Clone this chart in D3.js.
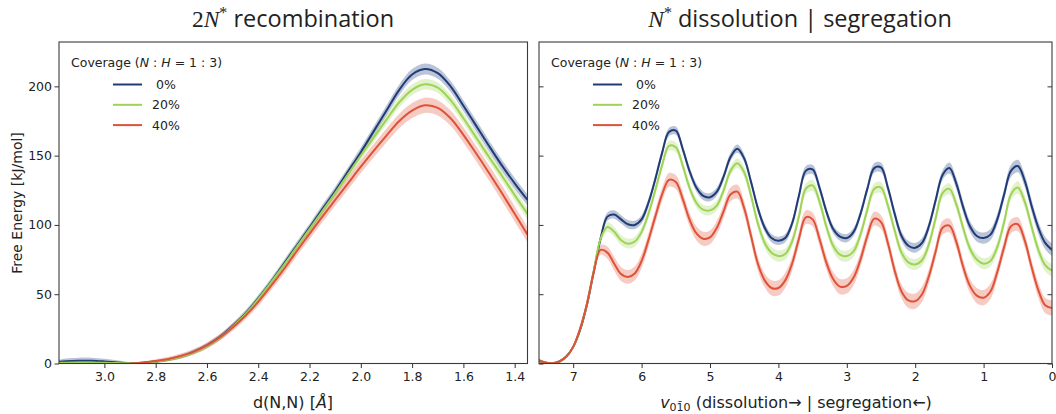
<!DOCTYPE html>
<html>
<head>
<meta charset="utf-8">
<script src="https://cdn.jsdelivr.net/npm/d3@7"></script>
<style>
html,body{margin:0;padding:0;background:#fff;}
svg{display:block;}
text{fill:#222;}
</style>
</head>
<body>
<svg id="chart" width="1056" height="414"></svg>
<script>
// ---------------- DATA ----------------
const seriesNames = [" 0%", "20%", "40%"];
const seriesColors = ["#1f3b78", "#9fd356", "#e05238"];

// Left panel: d(N,N) in Å
const leftX = [3.177,3.15,3.10,3.05,3.00,2.95,2.90,2.85,2.80,2.75,2.70,2.65,2.60,2.55,2.50,2.45,2.40,2.35,2.30,2.25,2.20,2.15,2.10,2.05,2.00,1.95,1.90,1.85,1.80,1.75,1.70,1.65,1.60,1.55,1.50,1.45,1.40,1.35];
const leftBlue  = [1.2,1.6,2.0,2.0,1.5,0.8,0.2,0.5,1.5,2.8,5,8.5,13,19,27,36,47,59,72,85,98,111.5,124.5,138.5,152.5,167.5,182.5,197.5,208.5,212.5,209.5,200,186,171.5,157,143,130,118];
const leftGreen = [0.5,0.6,0.7,0.7,0.5,0.3,0.1,0.4,1.3,2.7,4.8,8,12.5,18.5,26.5,35.5,46.5,58.5,71,84,97,110,123,136.5,150,163,176,188.5,197.5,201.5,199,190,177,163,149,135.5,121.5,108];
const leftRed   = [null,null,null,null,null,null,0,0.6,1.8,3.3,5.6,8.6,13,18.8,26,34.5,44.5,56,68,81,93.5,106,118,130,142,153.5,164.5,175,182.5,186.3,184.5,177,165,151.5,137.5,123,108,93];
const leftBlueErr  = [1.5,2,2.2,2.2,2,1.5,0.8,0.8,1,1.2,1.4,1.6,1.8,2,2.2,2.4,2.5,2.6,2.7,2.8,2.9,3,3.1,3.2,3.3,3.5,3.7,3.9,4,4,4,4,4,4,4,4,4,4];
const leftGreenErr = [0.8,0.8,0.8,0.8,0.8,0.6,0.5,0.6,0.8,1,1.2,1.4,1.6,1.8,2,2.2,2.3,2.4,2.5,2.6,2.7,2.8,2.9,3,3.1,3.3,3.5,3.7,3.8,3.8,3.8,3.8,3.8,3.8,3.8,3.8,3.8,3.8];
const leftRedErr   = [null,null,null,null,null,null,0.5,0.8,1.2,1.5,1.8,2,2.2,2.4,2.6,2.8,3,3.2,3.4,3.6,3.8,4,4.2,4.4,4.6,4.8,5,5.2,5.4,5.5,5.5,5.5,5.5,5.5,5.5,5.5,5.5,5.5];

// Right panel: v_010 coordinate
const rightX = [7.5,7.4,7.3,7.2,7.1,7.0,6.9,6.8,6.7,6.6,6.5,6.4,6.3,6.2,6.1,6.0,5.9,5.8,5.7,5.6,5.5,5.4,5.3,5.2,5.1,5.0,4.9,4.8,4.7,4.6,4.5,4.4,4.3,4.2,4.1,4.0,3.9,3.8,3.7,3.6,3.5,3.4,3.3,3.2,3.1,3.0,2.9,2.8,2.7,2.6,2.5,2.4,2.3,2.2,2.1,2.0,1.9,1.8,1.7,1.6,1.5,1.4,1.3,1.2,1.1,1.0,0.9,0.8,0.7,0.6,0.5,0.4,0.3,0.2,0.1,0.0];
const rightBlue  = [2,0.5,0,1.5,5,12,24,42,66,90, 106,107.5,104,100.5,100,104,116,133,152,167, 168,155,139,127,121,120,124,135,149,155, 148,131,112,98,90.5,88.5,90.5,101,121,139, 140,127,110,97,91.5,90.5,95,108,126,141, 141.5,127,108,92,85,83.5,87,99,118,136, 141,130,113,99,92,90.5,93,104,122,139, 142.5,132,114,98,87,82];
const rightGreen = [2,0.5,0,1.5,5,12,25,43,67,90, 98.5,95,89,86.5,88,95,108,125,143,157, 156,143,127,116,111,110.5,114,125,139,144.5, 138,121,101,87,80,77.5,79,88,106,126, 128.5,117,99,85,78.5,77.5,81,93,111,126, 127,114,96,80,73,71.5,74.5,86,105,123, 126,115,98,83,75,72,74,84,102,122, 127,117,99,82,71,67];
const rightRed   = [2,0.5,0,1.5,5,12,25,43,66,82, 80,72,64.5,62.5,65,74,89,106,122,132.5, 131,119,104,94,90,91,98,110,122,124, 112,92,72,60,54.5,54.5,60,72,90,105.5, 104,90,73,61,55.5,56,62,75,92,104.5, 102,87,67,52,45.5,45,50,63,81,98, 99.5,88,70,56,49,47.5,52,66,84,99, 100.5,89,70,53,42,40];
const rightBlueErr  = [1.5,1,1,1,1,1.2,1.5,2,2.5,3, 3,3,3,3,3,3,3,3,3,3, 3,3,3,3,3,3,3,3,3,3, 3,3,3,3,3,3,3,3,3,3.5, 3.5,3.5,3,3,3,3,3,3,3,3.5, 3.5,3.5,3.5,3.5,3.5,3.5,3.5,3.5,3.5,3.5, 4,4,4,4,4,4,4,4,4,4.5, 4.5,4.5,4.5,4.5,4.5,4.5];
const rightGreenErr = [1.5,1,1,1,1,1.2,1.5,2,2.5,3, 3.5,3.5,3.5,3.5,3.5,3.5,3.5,3.5,3.5,3.5, 3.5,3.5,3.5,3.5,3.5,3.5,3.5,3.5,3.5,3.5, 4,4,4,4,4,4,4,4,4,4, 4,4,4,4,4,4,4,4,4,4, 4,4,4,4,4,4,4,4,4,4, 4,4,4,4,4,4,4,4,4,4, 4.5,4.5,4.5,4.5,4.5,4.5];
const rightRedErr   = [1.5,1,1,1,1,1.2,1.5,2,2.5,3.5, 4.5,5,5,5,5,5,5,5,5,5, 5,5,5,5,5,5,5,5,5,5, 5,5,5,5,5.5,5.5,5.5,5,5,5, 5,5,5,5,5.5,5.5,5.5,5,5,5, 5,5,5,5,5.5,5.5,5.5,5,5,5, 5,5,5,5,5.5,5.5,5.5,5,5,5, 5,5,5,5.5,5.5,5.5];

const leftXTicks  = [3.0,2.8,2.6,2.4,2.2,2.0,1.8,1.6,1.4];
const rightXTicks = [7,6,5,4,3,2,1,0];
const yTicks = [0,50,100,150,200];

// ---------------- LAYOUT ----------------
const svg = d3.select("#chart");
const yTop = 42, yBot = 363.5;
const y = d3.scaleLinear().domain([0, 232]).range([yBot, yTop]);
const xL = d3.scaleLinear().domain([3.177, 1.35]).range([59, 527.5]);
const xR = d3.scaleLinear().domain([7.5, 0]).range([539, 1052]);

const tickFont = "'DejaVu Sans', sans-serif";

function makeSeries(xs, vals, errs) {
  return xs.map((x, i) => ({x: x, v: vals[i], e: errs[i]}));
}

function drawPanel(id, xs, seriesVals, seriesErrs, x, xTicks, xFmt, showYLabels) {
  const x0 = x.range()[0], x1 = x.range()[1];
  const g = svg.append("g");
  svg.append("clipPath").attr("id", "clip" + id)
    .append("rect").attr("x", x0).attr("y", yTop).attr("width", x1 - x0).attr("height", yBot - yTop);
  const plot = g.append("g").attr("clip-path", `url(#clip${id})`);

  const area = d3.area()
    .defined(d => d.v != null)
    .x(d => x(d.x)).y0(d => y(d.v - d.e)).y1(d => y(d.v + d.e))
    .curve(d3.curveCatmullRom.alpha(0.5));
  const line = d3.line()
    .defined(d => d.v != null)
    .x(d => x(d.x)).y(d => y(d.v))
    .curve(d3.curveCatmullRom.alpha(0.5));

  seriesVals.forEach((vals, k) => {
    const data = makeSeries(xs, vals, seriesErrs[k]);
    plot.append("path").attr("d", area(data))
      .attr("fill", seriesColors[k]).attr("fill-opacity", 0.3).attr("stroke", "none");
  });
  seriesVals.forEach((vals, k) => {
    const data = makeSeries(xs, vals, seriesErrs[k]);
    plot.append("path").attr("d", line(data))
      .attr("fill", "none").attr("stroke", seriesColors[k]).attr("stroke-width", 2)
      .attr("stroke-linejoin", "round");
  });

  // x axis
  const xa = g.append("g").attr("transform", `translate(0,${yBot})`)
    .call(d3.axisBottom(x).tickValues(xTicks).tickFormat(xFmt).tickSize(4.5).tickPadding(4.5));
  xa.select(".domain").remove();
  xa.selectAll("line").attr("stroke", "#333");
  xa.selectAll("text").attr("font-family", tickFont).attr("font-size", "12.5px").attr("fill", "#222");

  // y axis
  if (showYLabels) {
    const ya = g.append("g").attr("transform", `translate(${x0},0)`)
      .call(d3.axisLeft(y).tickValues(yTicks).tickSize(4.5).tickPadding(2.5));
    ya.select(".domain").remove();
    ya.selectAll("line").attr("stroke", "#333");
    ya.selectAll("text").attr("font-family", tickFont).attr("font-size", "12.5px").attr("fill", "#222");
  } else {
    const ya = g.append("g").attr("transform", `translate(${x0},0)`)
      .call(d3.axisRight(y).tickValues(yTicks).tickSize(4.5).tickFormat(""));
    ya.select(".domain").remove();
    ya.selectAll("line").attr("stroke", "#333");
    const yb = g.append("g").attr("transform", `translate(${x1},0)`)
      .call(d3.axisLeft(y).tickValues(yTicks).tickSize(4.5).tickFormat(""));
    yb.select(".domain").remove();
    yb.selectAll("line").attr("stroke", "#333");
  }

  // frame
  g.append("rect").attr("x", x0).attr("y", yTop).attr("width", x1 - x0).attr("height", yBot - yTop)
    .attr("fill", "none").attr("stroke", "#3a3a3a").attr("stroke-width", 1.1);

  // legend
  const lg = g.append("g").attr("font-family", tickFont).attr("font-size", "12.5px");
  const lt = lg.append("text").attr("x", x0 + 12).attr("y", 66.5);
  lt.append("tspan").text("Coverage (");
  lt.append("tspan").attr("font-style", "italic").text("N");
  lt.append("tspan").text(" : ");
  lt.append("tspan").attr("font-style", "italic").text("H");
  lt.append("tspan").text(" = 1 : 3)");
  seriesNames.forEach((name, k) => {
    const ly = 84.5 + k * 20.3;
    lg.append("line").attr("x1", x0 + 54).attr("x2", x0 + 83).attr("y1", ly).attr("y2", ly)
      .attr("stroke", seriesColors[k]).attr("stroke-width", 2);
    lg.append("text").attr("x", x0 + 93).attr("y", ly + 4.5)
      .attr("xml:space", "preserve").style("white-space", "pre").text(name);
  });
  return g;
}

drawPanel("L", leftX, [leftBlue, leftGreen, leftRed], [leftBlueErr, leftGreenErr, leftRedErr],
  xL, leftXTicks, d3.format(".1f"), true);
drawPanel("R", rightX, [rightBlue, rightGreen, rightRed], [rightBlueErr, rightGreenErr, rightRedErr],
  xR, rightXTicks, d3.format("d"), false);

// ---------------- TEXT ----------------
const serif = "'Liberation Serif', 'DejaVu Serif', serif";
const titleSans = "'Open Sans', 'Noto Sans', sans-serif";

// Left title: 2N* recombination
const t1 = svg.append("text").attr("x", 293).attr("y", 27).attr("text-anchor", "middle").attr("font-size", "23.5px");
t1.append("tspan").attr("font-family", serif).text("2");
t1.append("tspan").attr("font-family", serif).attr("font-style", "italic").text("N");
t1.append("tspan").attr("font-family", serif).attr("font-size", "16px").attr("dy", -9).text("*");
t1.append("tspan").attr("font-family", titleSans).attr("dy", 9).text(" recombination");

// Right title: N* dissolution | segregation
const t2 = svg.append("text").attr("x", 800).attr("y", 27).attr("text-anchor", "middle").attr("font-size", "23.5px");
t2.append("tspan").attr("font-family", serif).attr("font-style", "italic").text("N");
t2.append("tspan").attr("font-family", serif).attr("font-size", "16px").attr("dy", -9).text("*");
t2.append("tspan").attr("font-family", titleSans).attr("dy", 9).text(" dissolution | segregation");

// Axis labels
svg.append("text").attr("x", 293).attr("y", 408).attr("text-anchor", "middle")
  .attr("font-family", tickFont).attr("font-size", "16px")
  .call(t => {
    t.append("tspan").text("d(N,N) [");
    t.append("tspan").attr("font-style", "italic").text("Å");
    t.append("tspan").text("]");
  });

svg.append("text").attr("x", 796).attr("y", 408).attr("text-anchor", "middle")
  .attr("font-family", tickFont).attr("font-size", "16px")
  .call(t => {
    t.append("tspan").attr("font-style", "italic").text("v");
    t.append("tspan").attr("font-size", "11px").attr("dy", 3).text("01\u03040");
    t.append("tspan").attr("dy", -3).text(" (dissolution\u2192  | segregation\u2190)");
  });

svg.append("text").attr("transform", "translate(22,203) rotate(-90)").attr("text-anchor", "middle")
  .attr("font-family", tickFont).attr("font-size", "14px").text("Free Energy [kJ/mol]");
</script>
</body>
</html>
